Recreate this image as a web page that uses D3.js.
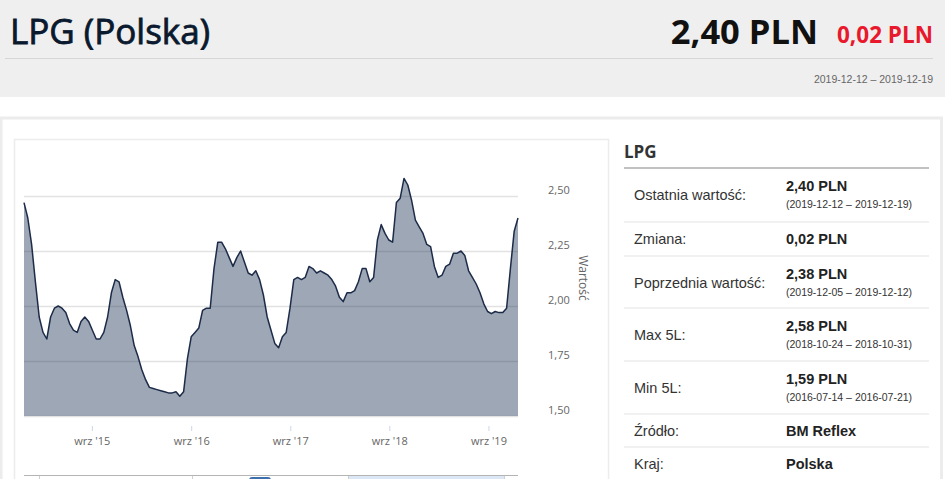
<!DOCTYPE html>
<html>
<head>
<meta charset="utf-8">
<title>LPG (Polska)</title>
<script src="https://cdn.jsdelivr.net/npm/d3@7"></script>
<style>
  body { margin: 0; background: #fff; overflow: hidden; }
  svg { display: block; }
</style>
</head>
<body>
<div class="canvas"></div>
<script>
// LPG price, PLN per litre, read every second week; last point is 2019-12-19
const endDate = '2019-12-19';
const stepDays = 14;
const prices = [
  2.47, 2.40, 2.28, 2.11, 1.95, 1.88, 1.85, 1.95, 1.99, 2.00, 1.99, 1.97, 1.92, 1.89, 1.88,
  1.93, 1.95, 1.93, 1.89, 1.85, 1.85, 1.88, 1.95, 2.06, 2.12, 2.11, 2.04, 1.98, 1.91, 1.82,
  1.77, 1.71, 1.665, 1.63, 1.625, 1.62, 1.615, 1.61, 1.605, 1.605, 1.61, 1.59, 1.61, 1.76,
  1.86, 1.88, 1.90, 1.98, 1.99, 1.99, 2.17, 2.29, 2.29, 2.26, 2.22, 2.18, 2.22, 2.25, 2.20,
  2.15, 2.14, 2.16, 2.12, 2.05, 1.95, 1.89, 1.83, 1.81, 1.86, 1.88, 1.99, 2.12, 2.13, 2.12,
  2.13, 2.18, 2.17, 2.15, 2.16, 2.15, 2.14, 2.12, 2.09, 2.04, 2.02, 2.06, 2.06,
  2.07, 2.11, 2.17, 2.17, 2.11, 2.13, 2.30, 2.37, 2.33, 2.30, 2.29, 2.47, 2.49, 2.58, 2.55,
  2.48, 2.39, 2.36, 2.33, 2.28, 2.27, 2.18, 2.13, 2.14, 2.18, 2.19, 2.24, 2.24, 2.25, 2.23,
  2.16, 2.13, 2.10, 2.06, 2.01, 1.975, 1.965, 1.975, 1.97, 1.97, 1.99, 2.17, 2.34, 2.40
];

const yTicks = [1.5, 1.75, 2, 2.25, 2.5];
const xTicks = ['2015-09-01', '2016-09-01', '2017-09-01', '2018-09-01', '2019-09-01'];

// side table
const infoLabels = ['Ostatnia wartość:', 'Zmiana:', 'Poprzednia wartość:', 'Max 5L:', 'Min 5L:', 'Źródło:', 'Kraj:'];
const infoValues = ['2,40 PLN', '0,02 PLN', '2,38 PLN', '2,58 PLN', '1,59 PLN', 'BM Reflex', 'Polska'];
const infoDates = ['(2019-12-12 – 2019-12-19)', null, '(2019-12-05 – 2019-12-12)', '(2018-10-24 – 2018-10-31)', '(2016-07-14 – 2016-07-21)', null, null];

const parse = d3.timeParse('%Y-%m-%d');
const last = parse(endDate);
const data = prices.map((v, i) => ({
  date: d3.timeDay.offset(last, -stepDays * (prices.length - 1 - i)),
  value: v
}));

// polish formats
const pl = d3.timeFormatLocale({
  dateTime: '%A, %e %B %Y, %X', date: '%d.%m.%Y', time: '%H:%M:%S', periods: ['AM', 'PM'],
  days: ['niedziela', 'poniedziałek', 'wtorek', 'środa', 'czwartek', 'piątek', 'sobota'],
  shortDays: ['niedz.', 'pon.', 'wt.', 'śr.', 'czw.', 'pt.', 'sob.'],
  months: ['styczeń', 'luty', 'marzec', 'kwiecień', 'maj', 'czerwiec', 'lipiec', 'sierpień', 'wrzesień', 'październik', 'listopad', 'grudzień'],
  shortMonths: ['sty', 'lut', 'mar', 'kwi', 'maj', 'cze', 'lip', 'sie', 'wrz', 'paź', 'lis', 'gru']
});
const plNum = d3.formatLocale({ decimal: ',', thousands: ' ', grouping: [3], currency: ['', ' zł'] });
const fmtX = pl.format("%b '%y");
const fmtY = plNum.format('.2f');

const svg = d3.select('.canvas').append('svg').attr('width', 945).attr('height', 479);

//header
svg.append('rect').attr('width', 945).attr('height', 97).attr('fill', '#efefef');
svg.append('line')
  .attr('x1', 5).attr('x2', 933).attr('y1', 58.5).attr('y2', 58.5)
  .attr('stroke', '#d6d6d6');
svg.append('text')
  .attr('x', 10).attr('y', 44)
  .attr('fill', '#0b192e').attr('stroke', '#0b192e').attr('stroke-width', 0.8)
  .style('font-family', 'Open Sans').style('font-size', '35px')
  .text('LPG (Polska)');
svg.append('text')
  .attr('x', 818).attr('y', 44).attr('text-anchor', 'end')
  .attr('fill', '#111')
  .style('font-family', 'Open Sans').style('font-size', '34.5px').style('font-weight', 'bold')
  .text(infoValues[0]);
svg.append('text')
  .attr('x', 933).attr('y', 43).attr('text-anchor', 'end')
  .attr('fill', '#e8192c')
  .style('font-family', 'Open Sans').style('font-size', '22.5px').style('font-weight', 'bold')
  .text(infoValues[1]);
svg.append('text')
  .attr('x', 933).attr('y', 83).attr('text-anchor', 'end')
  .attr('fill', '#666')
  .style('font-family', 'Liberation Sans').style('font-size', '10.5px')
  .text(infoDates[0].slice(1, -1));

//panels
svg.append('rect')
  .attr('x', 1).attr('y', 118).attr('width', 940.5).attr('height', 400)
  .attr('fill', '#fff').attr('stroke', '#ececec').attr('stroke-width', 3);
svg.append('rect')
  .attr('x', 14.5).attr('y', 139.5).attr('width', 594).attr('height', 400)
  .attr('fill', '#fff').attr('stroke', '#ececec').attr('stroke-width', 1.5);

// chart
const x = d3.scaleTime().domain(d3.extent(data, d => d.date)).range([24, 518]);
const y = d3.scaleLinear().domain([1.5, 2.5]).range([416, 196]);

svg.append('g')
  .selectAll('line')
  .data(yTicks)
  .join('line')
  .attr('x1', 24).attr('x2', 518)
  .attr('y1', d => Math.round(y(d)) + 0.5).attr('y2', d => Math.round(y(d)) + 0.5)
  .attr('stroke', '#e2e2e2').attr('stroke-width', 1.5);

const area = d3.area().x(d => x(d.date)).y0(y(1.5)).y1(d => y(d.value));
const line = d3.line().x(d => x(d.date)).y(d => y(d.value));

svg.append('path')
  .datum(data)
  .attr('d', area)
  .attr('fill', '#1f3456').attr('fill-opacity', 0.43);
svg.append('path')
  .datum(data)
  .attr('d', line)
  .attr('fill', 'none').attr('stroke', '#1c2b47').attr('stroke-width', 1.5)
  .attr('stroke-linejoin', 'round');

const xAxis = svg.append('g')
  .attr('transform', 'translate(0,426)')
  .call(d3.axisBottom(x).tickValues(xTicks.map(parse)).tickFormat(fmtX).tickSize(5).tickPadding(6));
xAxis.select('.domain').remove();
xAxis.selectAll('line').attr('stroke', '#ccd6eb');
xAxis.selectAll('text').attr('fill', '#666').style('font-family', 'Open Sans').style('font-size', '11px');

// labels sit a little above their grid line
const yAxis = svg.append('g')
  .attr('transform', 'translate(548,-6)')
  .call(d3.axisRight(y).tickValues(yTicks).tickFormat(fmtY).tickSize(0).tickPadding(0));
yAxis.select('.domain').remove();
yAxis.selectAll('text').attr('fill', '#666').style('font-family', 'Open Sans').style('font-size', '11px');

svg.append('text')
  .attr('transform', 'translate(579,278) rotate(90)')
  .attr('text-anchor', 'middle')
  .attr('fill', '#666')
  .style('font-family', 'Open Sans').style('font-size', '12px')
  .text('Wartość');

// range buttons under the chart (cut off by the window)
svg.append('line')
  .attr('x1', 24).attr('x2', 518).attr('y1', 475.5).attr('y2', 475.5)
  .attr('stroke', '#b4b4b4');
svg.append('rect')
  .attr('x', 348).attr('y', 476).attr('width', 156).attr('height', 4)
  .attr('fill', '#dce7f6');
svg.append('rect')
  .attr('x', 249).attr('y', 477).attr('width', 22).attr('height', 6).attr('rx', 3)
  .attr('fill', '#3d6fae');
svg.append('g')
  .selectAll('line')
  .data([39, 192, 348, 504])
  .join('line')
  .attr('x1', d => d + 0.5).attr('x2', d => d + 0.5).attr('y1', 476).attr('y2', 479)
  .attr('stroke', '#cfcfcf');

// side table
svg.append('text')
  .attr('x', 624).attr('y', 158)
  .attr('fill', '#333')
  .style('font-family', 'Open Sans').style('font-size', '17px').style('font-weight', 'bold')
  .text('LPG');
svg.append('line')
  .attr('x1', 624).attr('x2', 929).attr('y1', 168).attr('y2', 168)
  .attr('stroke', '#adadad').attr('stroke-width', 1.5);

const rowTops = [168, 222, 256, 308, 361, 414, 447];
const rows = svg.append('g')
  .selectAll('g')
  .data(infoLabels)
  .join('g')
  .attr('transform', (d, i) => `translate(0,${rowTops[i]})`)
  .style('font-family', 'Liberation Sans');

rows.append('text')
  .attr('x', 634)
  .attr('y', (d, i) => infoDates[i] ? 32 : 22)
  .attr('fill', '#333')
  .style('font-size', '14.5px')
  .text(d => d);
rows.append('text')
  .attr('x', 786)
  .attr('y', (d, i) => infoDates[i] ? 23 : 22)
  .attr('fill', '#222')
  .style('font-size', '14.5px').style('font-weight', 'bold')
  .text((d, i) => infoValues[i]);
rows.filter((d, i) => infoDates[i])
  .append('text')
  .attr('x', 786).attr('y', 40)
  .attr('fill', '#333')
  .style('font-size', '10.5px')
  .text(d => infoDates[infoLabels.indexOf(d)]);

svg.append('g')
  .selectAll('line')
  .data(rowTops.slice(1))
  .join('line')
  .attr('x1', 624).attr('x2', 929)
  .attr('y1', d => d).attr('y2', d => d)
  .attr('stroke', '#ededed').attr('stroke-width', 1.5);
</script>
</body>
</html>
